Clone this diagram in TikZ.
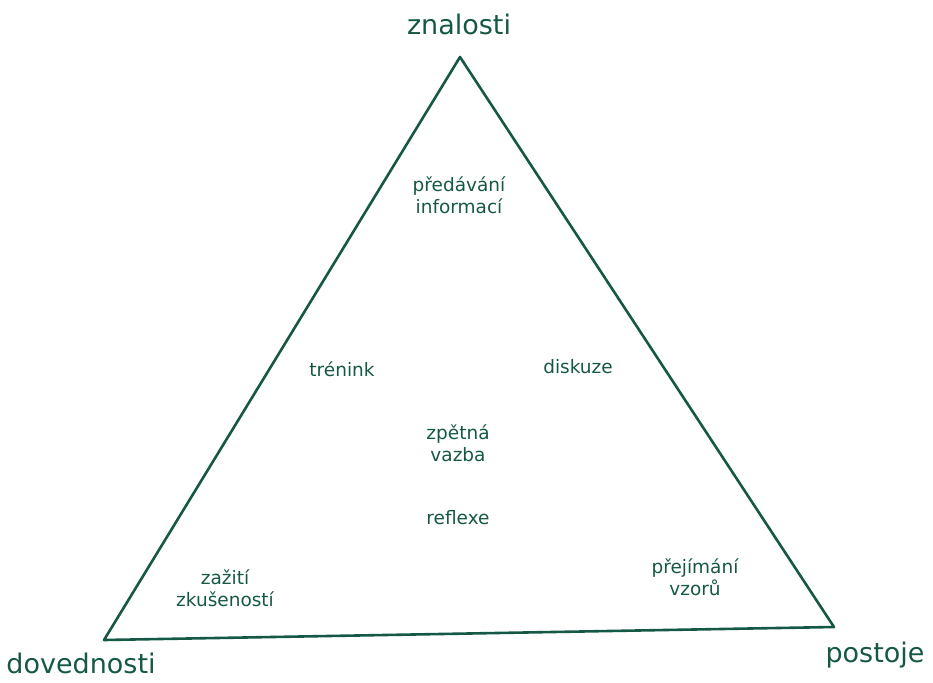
\documentclass[tikz,border=0pt]{standalone}
\usepackage{fontspec}
\setmainfont{DejaVu Sans}
\usepackage{tikz}

\definecolor{zelena}{RGB}{22,88,70}
\tikzset{
  roh/.style={font=\fontsize{27}{30}\selectfont, text=zelena},
  metoda/.style={font=\fontsize{18.5}{22.5}\selectfont, text=zelena, align=center},
}

\begin{document}
\begin{tikzpicture}[x=1pt, y=-1pt]
\useasboundingbox (0,0) rectangle (933,682);

% Vrcholy trojúhelníku
\coordinate (vrchol) at (460,57);
\coordinate (vlevo) at (104,640);
\coordinate (vpravo) at (834,627);
\draw[line width=2.6pt, zelena, line join=round] (vrchol) -- (vpravo) -- (vlevo) -- cycle;

% Popisky vrcholů
\node[roh] (znalosti) at (459,24) {znalosti};
\node[roh] (dovednosti) at (81,663) {dovednosti};
\node[roh] (postoje) at (875,655) {postoje};

% Metody uvnitř
\node[metoda] (predavani) at (459,195) {předávání\\informací};
\node[metoda] (trenink) at (342,369) {trénink};
\node[metoda] (diskuze) at (578,367) {diskuze};
\node[metoda] (zpetna) at (458,443) {zpětná\\vazba};
\node[metoda] (reflexe) at (458,518) {reflexe};
\node[metoda] (zaziti) at (225,588) {zažití\\zkušeností};
\node[metoda] (prejimani) at (695,577) {přejímání\\vzorů};
\end{tikzpicture}
\end{document}
